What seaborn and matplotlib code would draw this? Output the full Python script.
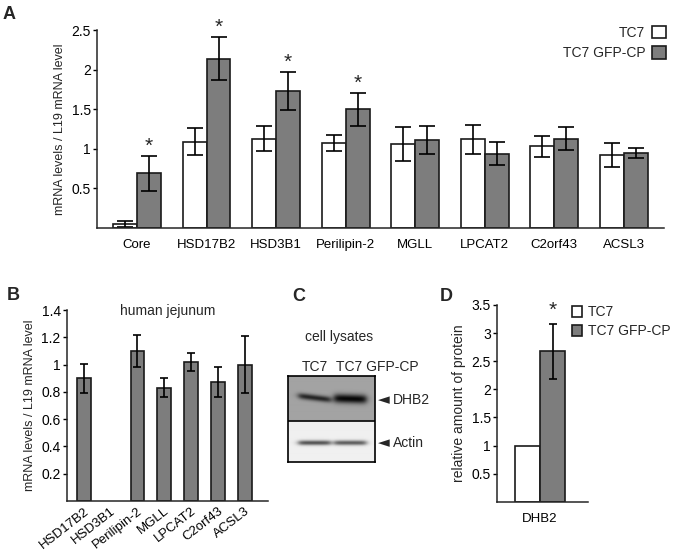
import numpy as np
import pandas as pd
import matplotlib
matplotlib.use('Agg')
import matplotlib.pyplot as plt
from matplotlib.patches import Patch
import seaborn as sns

# ---- data -------------------------------------------------------------
# A: mRNA levels in TC7 cells
genes_a = ['Core', 'HSD17B2', 'HSD3B1', 'Perilipin-2', 'MGLL', 'LPCAT2', 'C2orf43', 'ACSL3']
tc7_a = [0.05, 1.09, 1.13, 1.07, 1.06, 1.12, 1.03, 0.92]
tc7_a_err = [0.04, 0.17, 0.16, 0.10, 0.22, 0.18, 0.13, 0.155]
gfp_a = [0.69, 2.14, 1.73, 1.50, 1.11, 0.94, 1.13, 0.95]
gfp_a_err = [0.22, 0.27, 0.24, 0.21, 0.18, 0.15, 0.14, 0.065]
signif_a = [True, True, True, True, False, False, False, False]

# B: human jejunum (HSD3B1 not detected)
genes_b = ['HSD17B2', 'HSD3B1', 'Perilipin-2', 'MGLL', 'LPCAT2', 'C2orf43', 'ACSL3']
jejunum = [0.90, np.nan, 1.10, 0.83, 1.02, 0.87, 1.00]
jejunum_err = [0.105, np.nan, 0.115, 0.07, 0.065, 0.11, 0.21]

# C: western blot band strength per lane
lanes_c = ['TC7', 'TC7 GFP-CP']
dhb2_band = [0.50, 0.62]
actin_band = [0.62, 0.58]

# D: relative amount of protein
cells = ['TC7', 'TC7 GFP-CP']
protein_d = [1.0, 2.68]
protein_d_err = [0.0, 0.49]

WHITE = 'white'
GRAY = '#7d7d7d'
EDGE = '#1a1a1a'

sns.set_style('ticks')
plt.rcParams['font.family'] = ['Liberation Sans', 'DejaVu Sans']
plt.rcParams['axes.linewidth'] = 1.1
plt.rcParams['xtick.major.size'] = 0
plt.rcParams['ytick.major.size'] = 3
plt.rcParams['ytick.major.width'] = 1.0

fig = plt.figure(figsize=(6.75, 5.51), dpi=100)


def style_axis(ax):
    sns.despine(ax=ax)
    ax.set_xlabel('')
    ax.tick_params(axis='x', labelsize=9.5, colors='black')
    ax.tick_params(axis='y', labelsize=10, colors='black', pad=1.5)


def fmt(v):
    return ('%g' % v)


# ---- A ----------------------------------------------------------------
ax_a = fig.add_axes([97 / 675, 1 - 228 / 551, (664 - 97) / 675, (228 - 30) / 551])
df_a = pd.DataFrame({'gene': genes_a * 2,
                     'value': tc7_a + gfp_a,
                     'cell': ['TC7'] * len(genes_a) + ['TC7 GFP-CP'] * len(genes_a)})
sns.barplot(data=df_a, x='gene', y='value', hue='cell', order=genes_a,
            palette=[WHITE, GRAY], saturation=1, width=0.69, gap=0,
            edgecolor=EDGE, linewidth=1.2, errorbar=None, legend=False, ax=ax_a)
for cont, errs in zip(ax_a.containers, [tc7_a_err, gfp_a_err]):
    for bar, e in zip(cont, errs):
        x = bar.get_x() + bar.get_width() / 2
        ax_a.errorbar(x, bar.get_height(), yerr=e, fmt='none', ecolor='black',
                      elinewidth=1.2, capsize=6, capthick=1.2)
for bar, e, s in zip(ax_a.containers[1], gfp_a_err, signif_a):
    if s:
        ax_a.annotate('*', (bar.get_x() + bar.get_width() / 2, bar.get_height() + e),
                      xytext=(0, 0), textcoords='offset points',
                      ha='center', va='bottom', fontsize=15)
ax_a.set_xlim(-0.575, 7.58)
ax_a.set_ylim(0, 2.5)
ax_a.set_yticks([0.5, 1, 1.5, 2, 2.5])
ax_a.set_yticklabels([fmt(v) for v in [0.5, 1, 1.5, 2, 2.5]])
ax_a.set_ylabel('mRNA levels / L19 mRNA level', fontsize=9)
style_axis(ax_a)
ax_a.tick_params(axis='x', pad=8)
handles = [Patch(facecolor=c, edgecolor=EDGE, linewidth=1.2) for c in [WHITE, GRAY]]
fig.legend(handles, cells, loc='upper right', bbox_to_anchor=(666 / 675, 1 - 26 / 551),
           frameon=False, markerfirst=False, fontsize=10, handlelength=1.0,
           handleheight=1.0, handletextpad=0.5, labelspacing=0.45,
           borderpad=0, borderaxespad=0)

# ---- B ----------------------------------------------------------------
ax_b = fig.add_axes([67 / 675, 1 - 501 / 551, (268 - 67) / 675, (501 - 310) / 551])
df_b = pd.DataFrame({'gene': genes_b, 'value': jejunum})
sns.barplot(data=df_b, x='gene', y='value', order=genes_b, color=GRAY,
            saturation=1, width=0.52, edgecolor=EDGE, linewidth=1.2,
            errorbar=None, ax=ax_b)
ax_b.errorbar(np.arange(len(genes_b)), jejunum, yerr=jejunum_err, fmt='none',
              ecolor='black', elinewidth=1.2, capsize=2.8, capthick=1.2)
ax_b.set_xlim(-0.63, 6.87)
ax_b.set_ylim(0, 1.4)
ax_b.set_yticks([0.2, 0.4, 0.6, 0.8, 1, 1.2, 1.4])
ax_b.set_yticklabels([fmt(v) for v in [0.2, 0.4, 0.6, 0.8, 1, 1.2, 1.4]])
ax_b.set_ylabel('mRNA levels / L19 mRNA level', fontsize=9)
ax_b.set_title('human jejunum', fontsize=10, y=0.93)
style_axis(ax_b)
plt.setp(ax_b.get_xticklabels(), rotation=38, ha='right', rotation_mode='anchor')
ax_b.tick_params(axis='x', pad=3)

# ---- C ----------------------------------------------------------------
ax_c = fig.add_axes([288 / 675, 1 - 462 / 551, (375 - 288) / 675, (462 - 376) / 551])
ny, nx = 86, 87
yy, xx = np.mgrid[0:ny, 0:nx]
split = 44.6
img = np.where(yy < split, 0.64, 0.94)
lane_x = [0.30, 0.71]
for i in range(len(lanes_c)):
    cx = lane_x[i] * nx
    horiz = 1 / (1 + np.exp((np.abs(xx - cx) - 16) / 1.8))
    # first lane runs slightly uphill to the left
    slant = (xx - cx) * (0.12 if i == 0 else 0.03)
    top = np.exp(-((yy - 22 - slant - 1.0 * i) / (3.0 + 1.4 * i)) ** 2)
    bot = np.exp(-((yy - 66.5) / 2.4) ** 2)
    img = img - dhb2_band[i] * horiz * top - actin_band[i] * horiz * bot
ax_c.imshow(np.clip(img, 0, 1), cmap='gray', vmin=0, vmax=1, aspect='auto',
            interpolation='bilinear')
ax_c.axhline(split - 0.5, color='black', lw=1.2)
ax_c.set_xticks([])
ax_c.set_yticks([])
for sp in ax_c.spines.values():
    sp.set_visible(True)
    sp.set_linewidth(1.2)
    sp.set_color('black')
fig.text(339 / 675, 1 - 337 / 551, 'cell lysates', ha='center', va='center', fontsize=10)
fig.text(315 / 675, 1 - 367 / 551, lanes_c[0], ha='center', va='center', fontsize=10)
fig.text(377 / 675, 1 - 367 / 551, lanes_c[1], ha='center', va='center', fontsize=10)
for label, ypx in [('DHB2', 400), ('Actin', 443)]:
    fig.text(378 / 675, 1 - ypx / 551, '\u25c4', ha='left', va='center', fontsize=11,
             family='DejaVu Sans')
    fig.text(393 / 675, 1 - ypx / 551, label, ha='left', va='center', fontsize=10)

# ---- D ----------------------------------------------------------------
ax_d = fig.add_axes([497 / 675, 1 - 501.7 / 551, (588 - 497) / 675, (501.7 - 305) / 551])
df_d = pd.DataFrame({'protein': ['DHB2'] * 2, 'value': protein_d, 'cell': cells})
sns.barplot(data=df_d, x='protein', y='value', hue='cell', palette=[WHITE, GRAY],
            saturation=1, width=0.8, gap=0, edgecolor=EDGE, linewidth=1.2,
            errorbar=None, legend=False, ax=ax_d)
for cont, errs in zip(ax_d.containers, [[protein_d_err[0]], [protein_d_err[1]]]):
    for bar, e in zip(cont, errs):
        if e > 0:
            x = bar.get_x() + bar.get_width() / 2
            ax_d.errorbar(x, bar.get_height(), yerr=e, fmt='none', ecolor='black',
                          elinewidth=1.2, capsize=3, capthick=1.2)
            ax_d.annotate('*', (x, bar.get_height() + e), xytext=(0, 3),
                          textcoords='offset points', ha='center', va='bottom',
                          fontsize=15)
ax_d.set_xlim(-0.688, 0.768)
ax_d.set_ylim(0, 3.5)
ax_d.set_yticks([0.5, 1, 1.5, 2, 2.5, 3, 3.5])
ax_d.set_yticklabels([fmt(v) for v in [0.5, 1, 1.5, 2, 2.5, 3, 3.5]])
ax_d.set_ylabel('relative amount of protein', fontsize=10)
style_axis(ax_d)
ax_d.tick_params(axis='x', pad=8)
fig.legend(handles, cells, loc='upper left', bbox_to_anchor=(572 / 675, 1 - 305 / 551),
           frameon=False, fontsize=10, handlelength=0.75, handleheight=0.85,
           handletextpad=0.4, labelspacing=0.35, borderpad=0, borderaxespad=0)

# ---- panel letters ---------------------------------------------------
for letter, xp, yp in [('A', 3, 6), ('B', 7, 287), ('C', 292, 288), ('D', 440, 288)]:
    fig.text(xp / 675, 1 - yp / 551, letter, fontsize=13, fontweight='bold',
             ha='left', va='top')

fig.savefig('out.png', dpi=100)
